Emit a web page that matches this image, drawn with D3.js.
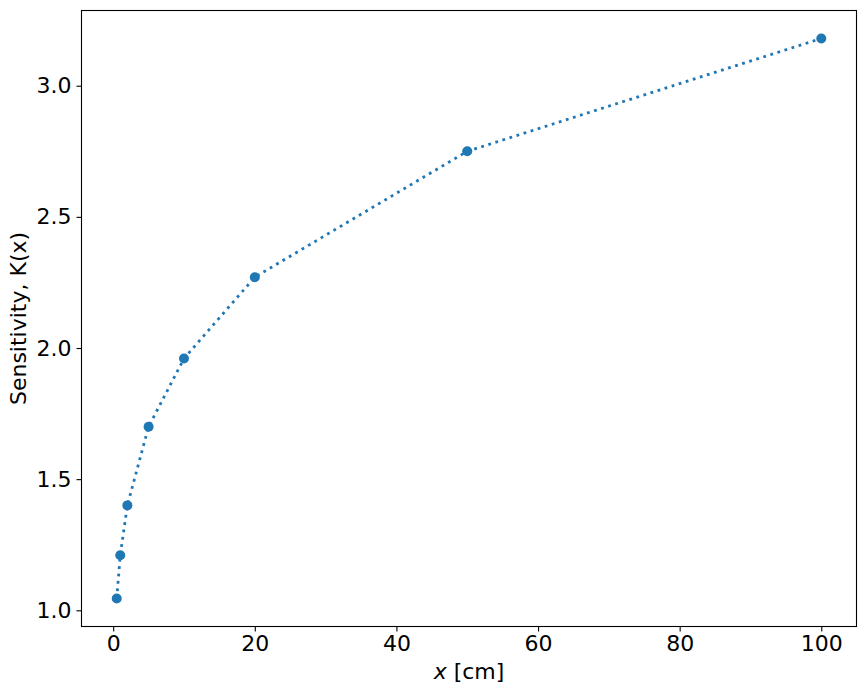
<!DOCTYPE html>
<html>
<head>
<meta charset="utf-8">
<script src="https://cdn.jsdelivr.net/npm/d3@7"></script>
<style>
  body { margin: 0; background: #fff; }
  text { font-family: "DejaVu Sans", sans-serif; }
</style>
</head>
<body>
<svg width="865" height="694"></svg>
<script>
// distance from source and measured sensitivity
const xVals = [0.5, 1, 2, 5, 10, 20, 50, 100];
const kVals = [1.045, 1.21, 1.40, 1.70, 1.96, 2.27, 2.75, 3.18];
const xTicks = [0, 20, 40, 60, 80, 100];
const yTicks = [1.0, 1.5, 2.0, 2.5, 3.0];

function main() {
  const svg = d3.select("svg");
  const left = 81.5, right = 856.5, top = 10.5, bottom = 626.5;
  const color = "#1f77b4";

  // matplotlib style 5% padding
  const pad = (lo, hi) => [lo - (hi - lo) * 0.05, hi + (hi - lo) * 0.05];
  const x = d3.scaleLinear().domain(pad(d3.min(xVals), d3.max(xVals))).range([left, right]);
  const y = d3.scaleLinear().domain(pad(d3.min(kVals), d3.max(kVals))).range([bottom, top]);

  const data = xVals.map((v, i) => ({ x: v, k: kVals[i] }));

  const xAxis = svg.append("g")
    .attr("transform", `translate(0,${bottom})`)
    .call(d3.axisBottom(x).tickValues(xTicks).tickFormat(d3.format("d")).tickSizeOuter(0).tickSize(5).tickPadding(4));
  const yAxis = svg.append("g")
    .attr("transform", `translate(${left},0)`)
    .call(d3.axisLeft(y).tickValues(yTicks).tickFormat(d3.format(".1f")).tickSizeOuter(0).tickSize(5).tickPadding(5));
  [xAxis, yAxis].forEach(a => {
    a.select(".domain").remove();
    a.selectAll("line").attr("stroke", "#000").attr("stroke-width", 1.1);
    a.selectAll("text").attr("font-size", 22).attr("fill", "#000")
      .style("font-family", "'DejaVu Sans', sans-serif");
  });

  svg.append("rect")
    .attr("x", left).attr("y", top)
    .attr("width", right - left).attr("height", bottom - top)
    .attr("fill", "none").attr("stroke", "#000").attr("stroke-width", 1.1);

  const line = d3.line().x(d => x(d.x)).y(d => y(d.k));
  svg.append("path")
    .datum(data)
    .attr("d", line)
    .attr("fill", "none")
    .attr("stroke", color)
    .attr("stroke-width", 2.8)
    .attr("stroke-dasharray", "2.8,4.6");

  svg.selectAll("circle")
    .data(data)
    .join("circle")
    .attr("cx", d => x(d.x))
    .attr("cy", d => y(d.k))
    .attr("r", 5)
    .attr("fill", color);

  const xl = svg.append("text")
    .attr("x", (left + right) / 2)
    .attr("y", 679)
    .attr("text-anchor", "middle")
    .attr("font-size", 22);
  xl.append("tspan").attr("font-style", "italic").text("x");
  xl.append("tspan").text(" [cm]");

  svg.append("text")
    .attr("transform", `translate(26,${(top + bottom) / 2}) rotate(-90)`)
    .attr("text-anchor", "middle")
    .attr("font-size", 22)
    .text("Sensitivity, K(x)");
}
main();
</script>
</body>
</html>
